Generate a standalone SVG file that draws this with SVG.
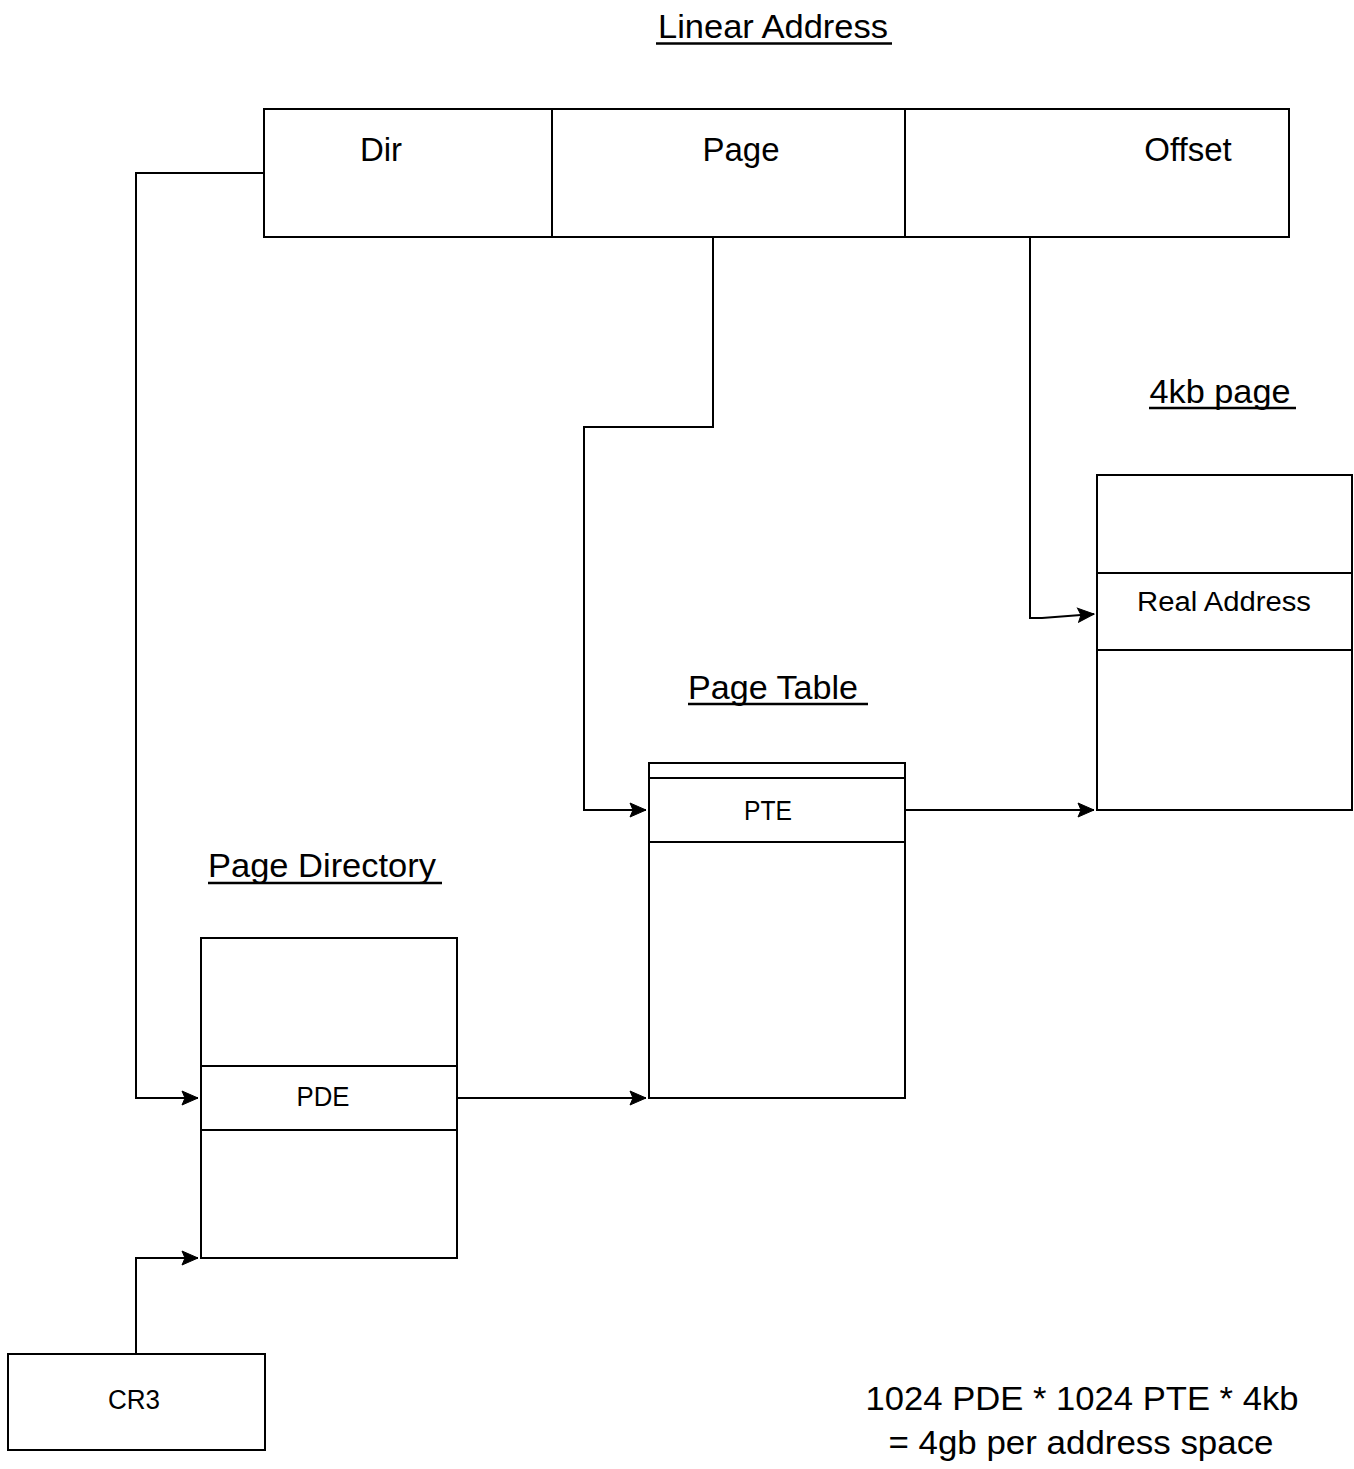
<svg xmlns="http://www.w3.org/2000/svg" width="1354" height="1469" viewBox="0 0 1354 1469">
<style>
.box{fill:#fff;stroke:#000;stroke-width:2}
.ln{fill:none;stroke:#000;stroke-width:2}
.t{font-family:"Liberation Sans",Arial,sans-serif;fill:#000;text-anchor:middle}
.big{font-size:33px}
.sm{font-size:27px}
.ul{stroke:#000;stroke-width:2.5}
</style>
<defs>
<marker id="arr" markerWidth="18" markerHeight="16" refX="17" refY="8" orient="auto" markerUnits="userSpaceOnUse">
<path d="M1,1 L17,8 L1,15 L4,8 Z" fill="#000" stroke="#000" stroke-width="1"/>
</marker>
</defs>
<rect width="1354" height="1469" fill="#fff"/>
<g id="title-linear">
<text class="t big" x="773" y="38" textLength="230" lengthAdjust="spacingAndGlyphs">Linear Address</text>
<line class="ul" x1="656" y1="43.5" x2="892" y2="43.5"/>
</g>
<g id="linear-address">
<rect class="box" x="264" y="109" width="1025" height="128"/>
<line class="ln" x1="552" y1="109" x2="552" y2="237"/>
<line class="ln" x1="905" y1="109" x2="905" y2="237"/>
<text class="t big" x="381" y="161">Dir</text>
<text class="t big" x="741" y="161">Page</text>
<text class="t big" x="1188" y="161">Offset</text>
</g>
<g id="title-4kb">
<text class="t big" x="1220" y="403" textLength="141" lengthAdjust="spacingAndGlyphs">4kb page</text>
<line class="ul" x1="1149" y1="408" x2="1296" y2="408"/>
</g>
<g id="page-4kb">
<rect class="box" x="1097" y="475" width="255" height="335"/>
<line class="ln" x1="1097" y1="573" x2="1352" y2="573"/>
<line class="ln" x1="1097" y1="650" x2="1352" y2="650"/>
<text class="t sm" x="1224" y="611" textLength="174" lengthAdjust="spacingAndGlyphs">Real Address</text>
</g>
<g id="title-pagetable">
<text class="t big" x="773" y="699" textLength="170" lengthAdjust="spacingAndGlyphs">Page Table</text>
<line class="ul" x1="688" y1="704" x2="868" y2="704"/>
</g>
<g id="page-table">
<rect class="box" x="649" y="763" width="256" height="335"/>
<line class="ln" x1="649" y1="778" x2="905" y2="778"/>
<line class="ln" x1="649" y1="842" x2="905" y2="842"/>
<text class="t sm" x="768" y="820" textLength="48" lengthAdjust="spacingAndGlyphs">PTE</text>
</g>
<g id="title-pagedir">
<text class="t big" x="322" y="877" textLength="228" lengthAdjust="spacingAndGlyphs">Page Directory</text>
<line class="ul" x1="208" y1="883" x2="442" y2="883"/>
</g>
<g id="page-directory">
<rect class="box" x="201" y="938" width="256" height="320"/>
<line class="ln" x1="201" y1="1066" x2="457" y2="1066"/>
<line class="ln" x1="201" y1="1130" x2="457" y2="1130"/>
<text class="t sm" x="323" y="1106" textLength="53" lengthAdjust="spacingAndGlyphs">PDE</text>
</g>
<g id="cr3">
<rect class="box" x="8" y="1354" width="257" height="96"/>
<text class="t sm" x="134" y="1409" textLength="52" lengthAdjust="spacingAndGlyphs">CR3</text>
</g>
<g id="note">
<text class="t big" x="1082" y="1410" textLength="433" lengthAdjust="spacingAndGlyphs">1024 PDE * 1024 PTE * 4kb</text>
<text class="t big" x="1081" y="1454" textLength="385" lengthAdjust="spacingAndGlyphs">= 4gb per address space</text>
</g>
<g id="connectors">
<polyline class="ln" points="264,173 136,173 136,1098 198,1098" marker-end="url(#arr)"/>
<polyline class="ln" points="713,237 713,427 584,427 584,810 646,810" marker-end="url(#arr)"/>
<polyline class="ln" points="1030,237 1030,618 1042,618 1094,614" marker-end="url(#arr)"/>
<polyline class="ln" points="905,810 1094,810" marker-end="url(#arr)"/>
<polyline class="ln" points="457,1098 646,1098" marker-end="url(#arr)"/>
<polyline class="ln" points="136,1354 136,1258 198,1258" marker-end="url(#arr)"/>
</g>
</svg>
